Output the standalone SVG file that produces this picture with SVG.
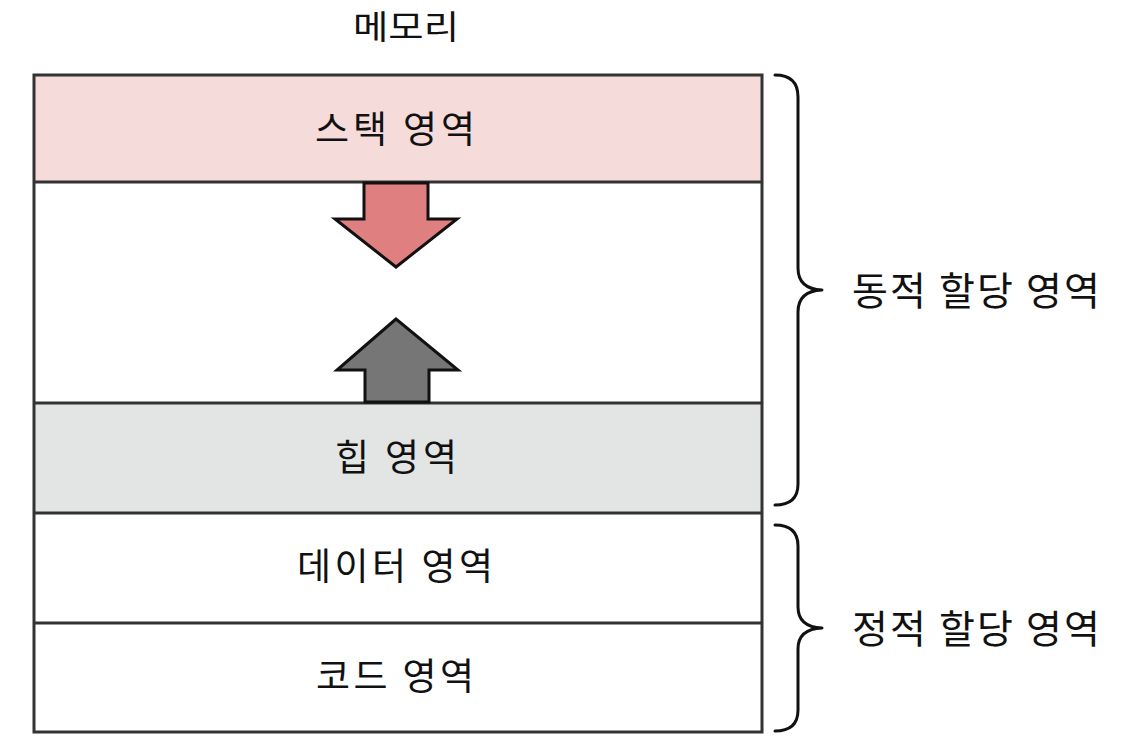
<svg xmlns="http://www.w3.org/2000/svg" width="1124" height="746" viewBox="0 0 1124 746">
<style>
.t{font-family:"Noto Sans CJK KR","Noto Sans",sans-serif;fill:#111;text-anchor:middle}
.lbl{font-size:37px}
.side{font-size:39px;text-anchor:start}
.sep{stroke:#333;stroke-width:3;fill:none}
.brace{stroke:#111;stroke-width:3;fill:none;stroke-linejoin:round;stroke-linecap:round}
.arrow{stroke:#111;stroke-width:3;stroke-linejoin:miter}
</style>
<rect width="1124" height="746" fill="#fff"/>
<text id="title" class="t" x="406" y="39" font-size="33" textLength="106" lengthAdjust="spacingAndGlyphs">메모리</text>
<g id="stack">
<rect x="34" y="75" width="728" height="107" fill="#f6dbdb"/>
<text class="t lbl" x="395" y="143" textLength="160" lengthAdjust="spacing">스택 영역</text>
</g>
<g id="free">
<rect x="34" y="182" width="728" height="221" fill="#fff"/>
</g>
<g id="heap">
<rect x="34" y="403" width="728" height="110" fill="#e3e4e4"/>
<text class="t lbl" x="396" y="471" textLength="122" lengthAdjust="spacing">힙 영역</text>
</g>
<g id="data">
<rect x="34" y="513" width="728" height="110" fill="#fff"/>
<text class="t lbl" x="395" y="580" textLength="196" lengthAdjust="spacing">데이터 영역</text>
</g>
<g id="code">
<rect x="34" y="623" width="728" height="109" fill="#fff"/>
<text class="t lbl" x="395" y="690" textLength="158" lengthAdjust="spacing">코드 영역</text>
</g>
<g id="frame">
<rect x="34" y="75" width="728" height="657" class="sep"/>
<line x1="34" y1="182" x2="762" y2="182" class="sep"/>
<line x1="34" y1="403" x2="762" y2="403" class="sep"/>
<line x1="34" y1="513" x2="762" y2="513" class="sep"/>
<line x1="34" y1="623" x2="762" y2="623" class="sep"/>
</g>
<g id="connectors">
<polygon class="arrow" fill="#e07f7f" points="364,183 364,219 335,219 396,267 457,219 428,219 428,183"/>
<polygon class="arrow" fill="#767676" points="396,319 337,370 365,370 365,402 429,402 429,370 458,370"/>
</g>
<g id="dynamic">
<path class="brace" d="M775,75 Q798,75 798,97 L798,268 Q798,289 822,290 Q798,291 798,312 L798,484 Q798,505 775,505"/>
<text class="t side" x="852" y="305" textLength="248" lengthAdjust="spacing">동적 할당 영역</text>
</g>
<g id="static">
<path class="brace" d="M775,525 Q798,525 798,546 L798,607 Q798,627 822,628 Q798,629 798,649 L798,710 Q798,731 775,731"/>
<text class="t side" x="852" y="643" textLength="248" lengthAdjust="spacing">정적 할당 영역</text>
</g>
</svg>
